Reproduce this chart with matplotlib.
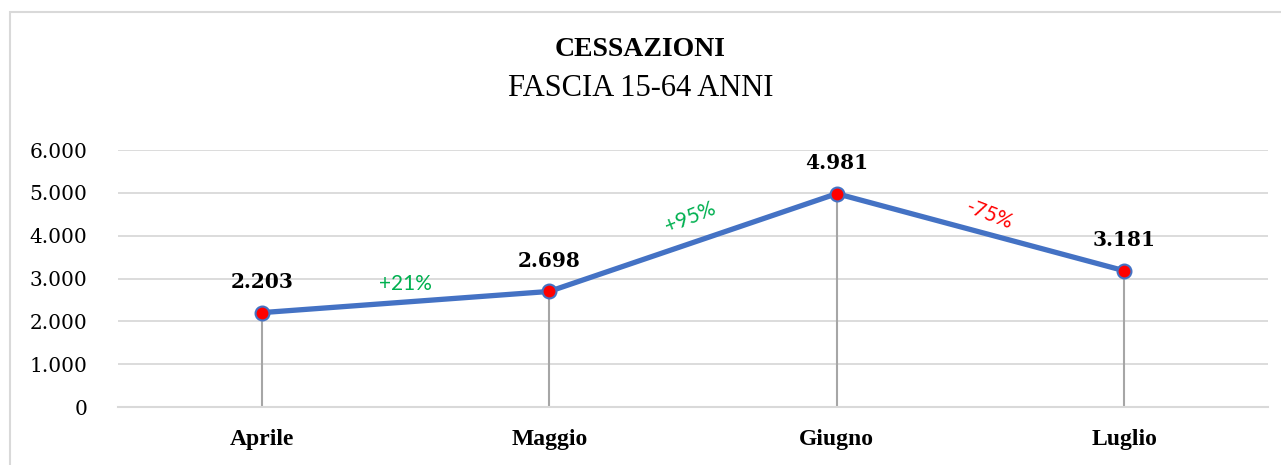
import matplotlib
matplotlib.use('Agg')
from matplotlib import pyplot as plt
from matplotlib.patches import Rectangle
from matplotlib.ticker import FuncFormatter

mesi = ['Aprile', 'Maggio', 'Giugno', 'Luglio']
valori = [2203, 2698, 4981, 3181]
etichette = ['2.203', '2.698', '4.981', '3.181']
variazioni = ['+21%', '+95%', '-75%']
col_var = ['#00B050', '#00B050', '#FF0000']
pos_var = [(0.50, 2870, 0), (1.49, 4420, 22), (2.53, 4480, -21)]

serif = ['DejaVu Serif']

fig = plt.figure(figsize=(12.81, 4.65), dpi=100)
fig.patches.append(Rectangle((10 / 1281, -0.1), 1.2, 1 - 12 / 465 + 0.1,
                             transform=fig.transFigure, fill=False,
                             edgecolor='#D9D9D9', linewidth=1.5))
ax = fig.add_axes([118 / 1281, 1 - 407 / 465, 1150 / 1281, 257 / 465])

x = list(range(len(mesi)))
for xi, v in zip(x, valori):
    ax.plot([xi, xi], [0, v], color='#A6A6A6', linewidth=1.5, zorder=2)
ax.plot(x, valori, color='#4472C4', linewidth=3.8, zorder=3,
        marker='o', markersize=10, markerfacecolor='#FF0000',
        markeredgecolor='#4472C4', markeredgewidth=1.5)

for xi, v, t in zip(x, valori, etichette):
    ax.annotate(t, (xi, v), xytext=(0, 22), textcoords='offset points',
                ha='center', va='center', fontsize=14.5, fontweight='bold',
                family=serif, color='black')

for (px, py, rot), t, c in zip(pos_var, variazioni, col_var):
    ax.text(px, py, t, ha='center', va='center', fontsize=15, color=c,
            rotation=rot, family=['Lato', 'DejaVu Sans'])

ax.set_xlim(-0.5, 3.5)
ax.set_ylim(0, 6000)
ax.set_yticks(range(0, 7000, 1000))
ax.yaxis.set_major_formatter(FuncFormatter(lambda v, p: f'{int(v):,}'.replace(',', '.')))
ax.set_xticks(x)
ax.set_xticklabels(mesi, fontsize=17, fontweight='bold', family=['Liberation Serif'])
for lab in ax.get_yticklabels():
    lab.set_family(serif)
    lab.set_fontsize(14.5)
ax.tick_params(axis='both', length=0)
ax.tick_params(axis='x', pad=16)
ax.tick_params(axis='y', pad=22)
ax.grid(axis='y', color='#D9D9D9', linewidth=1.3)
ax.set_axisbelow(True)
for s in ['top', 'right', 'left']:
    ax.spines[s].set_visible(False)
ax.spines['bottom'].set_color('#D9D9D9')
ax.spines['bottom'].set_linewidth(1.5)

fig.text(0.5, 1 - 50 / 465, 'CESSAZIONI', ha='center', va='center',
         fontsize=20, fontweight='bold', family=['Liberation Serif'])
fig.text(0.5, 1 - 88 / 465, 'FASCIA 15-64 ANNI', ha='center', va='center',
         fontsize=22, family=['Liberation Serif'])

fig.savefig('out.png', dpi=100)
